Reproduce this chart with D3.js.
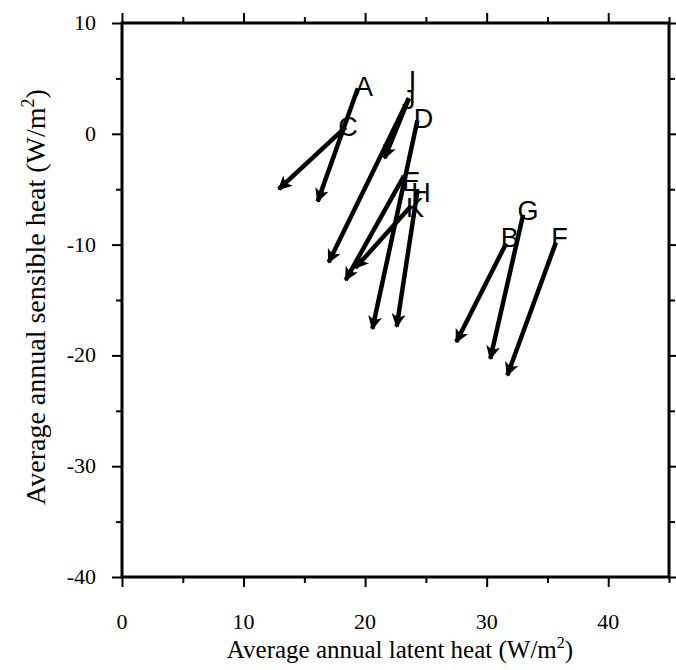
<!DOCTYPE html>
<html>
<head>
<meta charset="utf-8">
<script src="https://cdn.jsdelivr.net/npm/d3@7"></script>
<style>
  html, body { margin: 0; padding: 0; background: #fff; }
  svg { display: block; }
</style>
</head>
<body>
<svg id="chart" width="676" height="670"></svg>
<script>
// Site identifiers
const sites = ["A", "B", "C", "D", "E", "F", "G", "H", "I", "J", "K"];
// Starting latent / sensible heat (W/m^2)
const latentStart   = [19.4, 31.6, 18.4, 24.3, 23.2, 35.7, 33.0, 24.3, 23.6, 23.6, 23.8];
const sensibleStart = [ 4.1, -9.9,  0.6,  1.2, -3.8, -9.8, -7.3, -5.2,  3.2,  3.2, -6.5];
// Ending latent / sensible heat (W/m^2)
const latentEnd     = [16.1, 27.5, 12.9, 20.6, 18.4, 31.7, 30.3, 22.6, 21.6, 17.0, 19.2];
const sensibleEnd   = [-6.1, -18.8, -5.0, -17.6, -13.2, -21.8, -20.3, -17.4, -2.2, -11.6, -12.1];
// Label anchor (letter centre)
const labelX = [19.9, 31.9, 18.6, 24.8, 23.8, 36.0, 33.4, 24.6, 23.9, 23.6, 24.1];
const labelY = [ 4.3, -9.3,  0.7,  1.4, -4.3, -9.3, -6.9, -5.3,  4.8,  3.1, -6.6];

const xTicks = [0, 5, 10, 15, 20, 25, 30, 35, 40, 45];
const yTicks = [-40, -35, -30, -25, -20, -15, -10, -5, 0, 5, 10];
const xTickLabels = [0, 10, 20, 30, 40];
const yTickLabels = [-40, -30, -20, -10, 0, 10];

const svg = d3.select("#chart");
const plotLeft = 122, plotRight = 669, plotTop = 23, plotBottom = 577;

const x = d3.scaleLinear().domain([0, 45]).range([plotLeft, plotRight]);
const y = d3.scaleLinear().domain([-40, 10]).range([plotBottom, plotTop]);

const serif = "'Liberation Serif', 'Times New Roman', serif";
const sans = "'Liberation Sans', Arial, sans-serif";

// arrowhead marker
svg.append("defs").append("marker")
  .attr("id", "head")
  .attr("viewBox", "0 0 10 10")
  .attr("refX", 9).attr("refY", 5)
  .attr("markerUnits", "userSpaceOnUse")
  .attr("markerWidth", 18).attr("markerHeight", 14)
  .attr("orient", "auto")
  .append("path")
  .attr("d", "M0,0 L10,5 L0,10 L2.5,5 Z")
  .attr("fill", "#000");

// axes with outward ticks (major every 10, minor every 5)
function styleAxis(g) {
  g.select(".domain").remove();
  g.selectAll(".tick line").attr("stroke", "#000").attr("stroke-width", 2);
  g.selectAll(".tick text").remove();
}
function tickLen(v) { return v % 10 === 0 ? 10 : 6; }

const bottomAxis = svg.append("g").attr("transform", `translate(0,${plotBottom})`)
  .call(d3.axisBottom(x).tickValues(xTicks).tickSize(0));
bottomAxis.selectAll(".tick line").attr("y2", d => tickLen(d));
styleAxis(bottomAxis);

const topAxis = svg.append("g").attr("transform", `translate(0,${plotTop})`)
  .call(d3.axisTop(x).tickValues(xTicks).tickSize(0));
topAxis.selectAll(".tick line").attr("y2", d => -tickLen(d));
styleAxis(topAxis);

const leftAxis = svg.append("g").attr("transform", `translate(${plotLeft},0)`)
  .call(d3.axisLeft(y).tickValues(yTicks).tickSize(0));
leftAxis.selectAll(".tick line").attr("x2", d => -tickLen(d));
styleAxis(leftAxis);

const rightAxis = svg.append("g").attr("transform", `translate(${plotRight},0)`)
  .call(d3.axisRight(y).tickValues(yTicks).tickSize(0));
rightAxis.selectAll(".tick line").attr("x2", d => tickLen(d));
styleAxis(rightAxis);

// frame
svg.append("rect")
  .attr("x", plotLeft).attr("y", plotTop)
  .attr("width", plotRight - plotLeft).attr("height", plotBottom - plotTop)
  .attr("fill", "none").attr("stroke", "#000").attr("stroke-width", 3);

// tick labels
svg.append("g").selectAll("text").data(xTickLabels).join("text")
  .attr("x", d => x(d)).attr("y", plotBottom + 52)
  .attr("text-anchor", "middle")
  .attr("font-family", serif).attr("font-size", 22)
  .text(d => d);

svg.append("g").selectAll("text").data(yTickLabels).join("text")
  .attr("x", plotLeft - 26).attr("y", d => y(d) + 7)
  .attr("text-anchor", "end")
  .attr("font-family", serif).attr("font-size", 22)
  .text(d => d);

// axis titles
const xTitle = svg.append("text")
  .attr("x", 400).attr("y", 658)
  .attr("text-anchor", "middle")
  .attr("font-family", serif).attr("font-size", 25);
xTitle.append("tspan").text("Average annual latent heat (W/m");
xTitle.append("tspan").attr("font-size", 16).attr("dy", -10).text("2");
xTitle.append("tspan").attr("dy", 10).text(")");

const yTitle = svg.append("text")
  .attr("transform", "translate(45,297) rotate(-90)")
  .attr("text-anchor", "middle")
  .attr("font-family", serif).attr("font-size", 28);
yTitle.append("tspan").text("Average annual sensible heat (W/m");
yTitle.append("tspan").attr("font-size", 18).attr("dy", -11).text("2");
yTitle.append("tspan").attr("dy", 11).text(")");

// change arrows
const rows = sites.map((s, i) => ({
  s, x0: latentStart[i], y0: sensibleStart[i], x1: latentEnd[i], y1: sensibleEnd[i],
  lx: labelX[i], ly: labelY[i]
}));

svg.append("g").selectAll("line").data(rows).join("line")
  .attr("x1", d => x(d.x0)).attr("y1", d => y(d.y0))
  .attr("x2", d => x(d.x1)).attr("y2", d => y(d.y1))
  .attr("stroke", "#000").attr("stroke-width", 4.5)
  .attr("marker-end", "url(#head)");

svg.append("g").selectAll("text").data(rows).join("text")
  .attr("x", d => x(d.lx)).attr("y", d => y(d.ly))
  .attr("dy", "0.36em")
  .attr("text-anchor", "middle")
  .attr("font-family", sans).attr("font-size", 27)
  .text(d => d.s);
</script>
</body>
</html>
